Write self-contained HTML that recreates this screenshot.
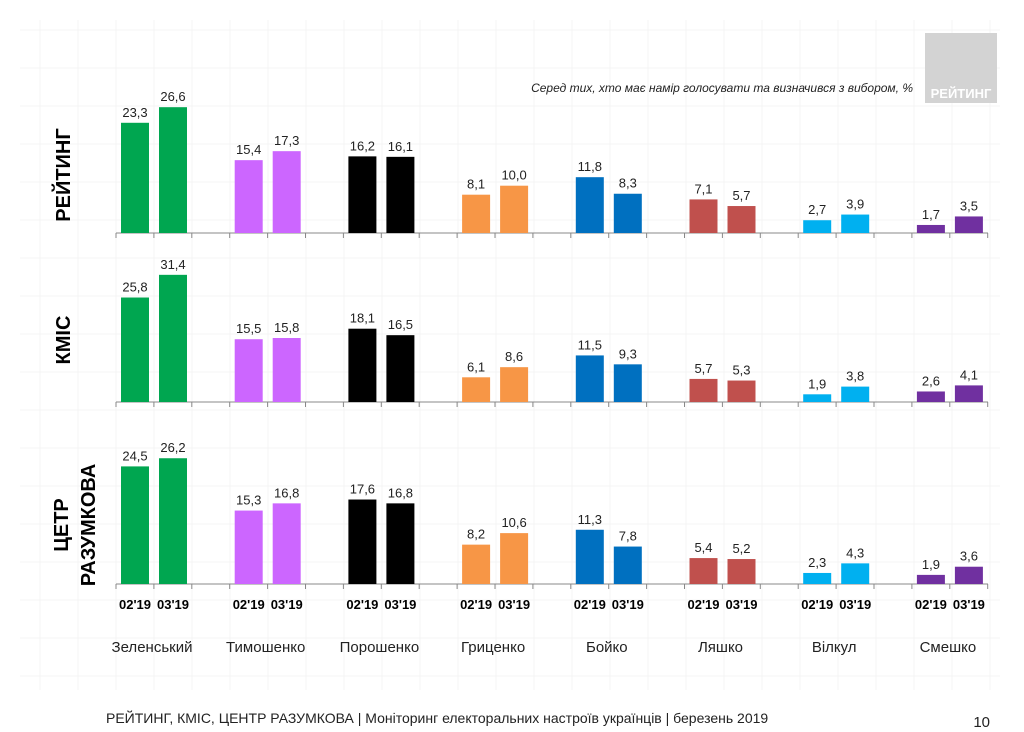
<!DOCTYPE html>
<html><head><meta charset="utf-8">
<style>
body{margin:0;background:#fff;}
svg{display:block;font-family:"Liberation Sans Narrow","Liberation Sans",sans-serif;}
</style></head>
<body>
<svg id="chart" width="1024" height="732" viewBox="0 0 1024 732" xmlns="http://www.w3.org/2000/svg">
<g id="grid"></g>
<rect x="925" y="33" width="72" height="70" fill="#d3d3d3"/>
<text x="961" y="98" text-anchor="middle" fill="#fff" font-weight="bold" font-size="13" font-family="Liberation Sans, sans-serif">РЕЙТИНГ</text>
<text x="913" y="92" text-anchor="end" font-style="italic" font-size="12" fill="#222">Серед тих, хто має намір голосувати та визначився з вибором, %</text>
<text transform="translate(70,175) rotate(-90)" text-anchor="middle" font-weight="bold" font-size="20" font-family="Liberation Sans, sans-serif">РЕЙТИНГ</text>
<text transform="translate(70,340) rotate(-90)" text-anchor="middle" font-weight="bold" font-size="20" font-family="Liberation Sans, sans-serif">КМІС</text>
<text transform="translate(68,525) rotate(-90)" text-anchor="middle" font-weight="bold" font-size="20" font-family="Liberation Sans, sans-serif">ЦЕТР</text>
<text transform="translate(95,525) rotate(-90)" text-anchor="middle" font-weight="bold" font-size="20" font-family="Liberation Sans, sans-serif">РАЗУМКОВА</text>
<g id="plot"></g>
<text x="106" y="723" font-size="14" fill="#222">РЕЙТИНГ, КМІС, ЦЕНТР РАЗУМКОВА  | Моніторинг електоральних настроїв українців | березень 2019</text>
<text x="990" y="727" text-anchor="end" font-size="15" fill="#222">10</text>
</svg>
<script>
const candidates=["Зеленський","Тимошенко","Порошенко","Гриценко","Бойко","Ляшко","Вілкул","Смешко"];
const periods=["02'19","03'19"];
const colors=["#00a650","#cc66ff","#000000","#f79646","#0070c0","#c0504d","#00b0f0","#7030a0"];
const reytingFeb=[23.3,15.4,16.2,8.1,11.8,7.1,2.7,1.7];
const reytingMar=[26.6,17.3,16.1,10.0,8.3,5.7,3.9,3.5];
const kmisFeb=[25.8,15.5,18.1,6.1,11.5,5.7,1.9,2.6];
const kmisMar=[31.4,15.8,16.5,8.6,9.3,5.3,3.8,4.1];
const razFeb=[24.5,15.3,17.6,8.2,11.3,5.4,2.3,1.9];
const razMar=[26.2,16.8,16.8,10.6,7.8,5.2,4.3,3.6];
const panels=[{n:"reyting",f:reytingFeb,m:reytingMar,base:233,k:4.73},
{n:"kmis",f:kmisFeb,m:kmisMar,base:402,k:4.05},
{n:"razumkov",f:razFeb,m:razMar,base:584,k:4.8}];
const NS="http://www.w3.org/2000/svg";
const plot=document.getElementById('plot');
const grid=document.getElementById('grid');
function mk(t,a,p){const e=document.createElementNS(NS,t);for(const k in a)e.setAttribute(k,a[k]);(p||plot).appendChild(e);return e;}
for(let x=40;x<1000;x+=38){const l=mk('line',{x1:x,y1:20,x2:x,y2:690,stroke:'#f4f4f4','stroke-width':1},grid);}
for(let y=30;y<690;y+=38){const l=mk('line',{x1:20,y1:y,x2:1000,y2:y,stroke:'#f4f4f4','stroke-width':1},grid);}
const x0=116,gs=113.7,slot=38,bw=28;
function xBar(i,j){return x0+i*gs+5+j*slot;}
panels.forEach(p=>{
 const ax=mk('line',{x1:x0,y1:p.base,x2:988,y2:p.base,stroke:'#888','stroke-width':1});
 
 
 for(let t=x0;t<=990;t+=gs/3){const tk=mk('line',{x1:t,y1:p.base,x2:t,y2:p.base+5,stroke:'#888'});}
 [p.f,p.m].forEach((arr,j)=>{
  arr.forEach((v,i)=>{
   const h=v*p.k,x=xBar(i,j);
   const r=mk('rect',{x:x,y:p.base-h,width:bw,height:h,fill:colors[i]});
   
   
   const tx=mk('text',{x:x+bw/2,y:p.base-h-6,'text-anchor':'middle','font-size':13,fill:'#222'});
   tx.textContent=v.toFixed(1).replace('.',',');
   
   
  });
 });
});
candidates.forEach((c,i)=>{
 periods.forEach((pd,j)=>{
  const t=mk('text',{x:xBar(i,j)+bw/2,y:609,'text-anchor':'middle','font-size':13,'font-weight':'bold'});
  t.textContent=pd;
  
  
 });
 const n=mk('text',{x:xBar(i,0)+31,y:652,'text-anchor':'middle','font-size':15,fill:'#222'});
 n.textContent=c;
 
 
});
</script>
</body></html>
